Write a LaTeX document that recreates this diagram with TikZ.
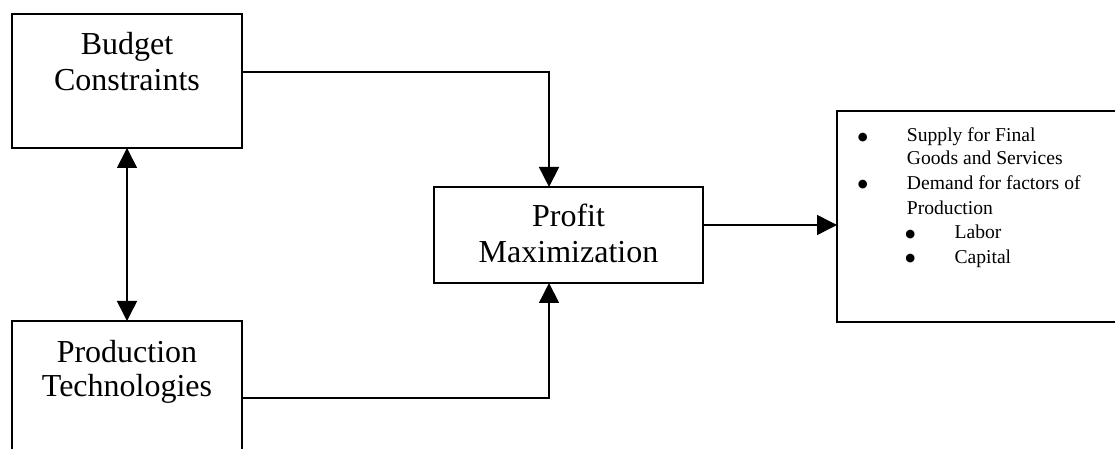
\documentclass[tikz,border=0pt]{standalone}
\usepackage{fontspec}
\setmainfont{Liberation Serif}
\newfontfamily\bulletfont{DejaVu Sans}
\usetikzlibrary{arrows.meta}
\tikzset{
  boxnode/.style={draw, line width=1.2pt, inner sep=0pt, outer sep=0pt, rectangle},
  bigtext/.style={inner sep=0pt, anchor=base, font=\fontsize{24}{27.6}\selectfont},
  smalltext/.style={inner sep=0pt, anchor=base west, font=\fontsize{14.7}{18}\selectfont},
  bulletnode/.style={inner sep=0pt, anchor=center, font=\bulletfont\fontsize{8.5}{9}\selectfont},
  conn/.style={line width=1.2pt},
  arr/.style={conn, -{Triangle[length=15pt,width=15pt]}},
  darr/.style={conn, {Triangle[length=15pt,width=15pt]}-{Triangle[length=15pt,width=15pt]}}
}
\begin{document}
\begin{tikzpicture}[x=0.75pt,y=-0.75pt]
\clip (0,0) rectangle (1115,449);
\fill[white] (0,0) rectangle (1115,449);
% boxes
\node[boxnode, minimum width=172.5pt, minimum height=100.5pt] (budget) at (127,81) {};
\node[boxnode, minimum width=172.5pt, minimum height=100.5pt] (prod) at (127,388) {};
\node[boxnode, minimum width=201.75pt, minimum height=72pt] (profit) at (568.5,235) {};
\node[boxnode, minimum width=240pt, minimum height=158.25pt] (right) at (997,216.5) {};
% box texts
\node[bigtext] (bt1) at (127,55) {Budget};
\node[bigtext] (bt2) at (127,91) {Constraints};
\node[bigtext] (pt1) at (127,363) {Production};
\node[bigtext] (pt2) at (127,397) {Technologies};
\node[bigtext] (mt1) at (568.5,227) {Profit};
\node[bigtext] (mt2) at (568.5,263) {Maximization};
% list
\node[bulletnode] (b1) at (862.7,137.2) {●};
\node[smalltext] (l1) at (906.7,141.7) {Supply for Final};
\node[smalltext] (l2) at (906.7,165) {Goods and Services};
\node[bulletnode] (b2) at (862.7,184.8) {●};
\node[smalltext] (l3) at (906.7,189.3) {Demand for factors of};
\node[smalltext] (l4) at (906.7,214.3) {Production};
\node[bulletnode] (b3) at (910.3,234.5) {●};
\node[smalltext] (l5) at (954.3,239) {Labor};
\node[bulletnode] (b4) at (910.3,258.8) {●};
\node[smalltext] (l6) at (954.3,263.3) {Capital};
% connectors
\draw[arr] ([yshift=6.75pt]budget.east) -| ([xshift=-14.6pt]profit.north);
\draw[arr] ([yshift=-7.5pt]prod.east) -| ([xshift=-14.6pt]profit.south);
\draw[arr] ([yshift=7.5pt]profit.east) coordinate (pe) -- (pe -| right.west);
\draw[darr] (budget.south) -- (prod.north);
\end{tikzpicture}
\end{document}
